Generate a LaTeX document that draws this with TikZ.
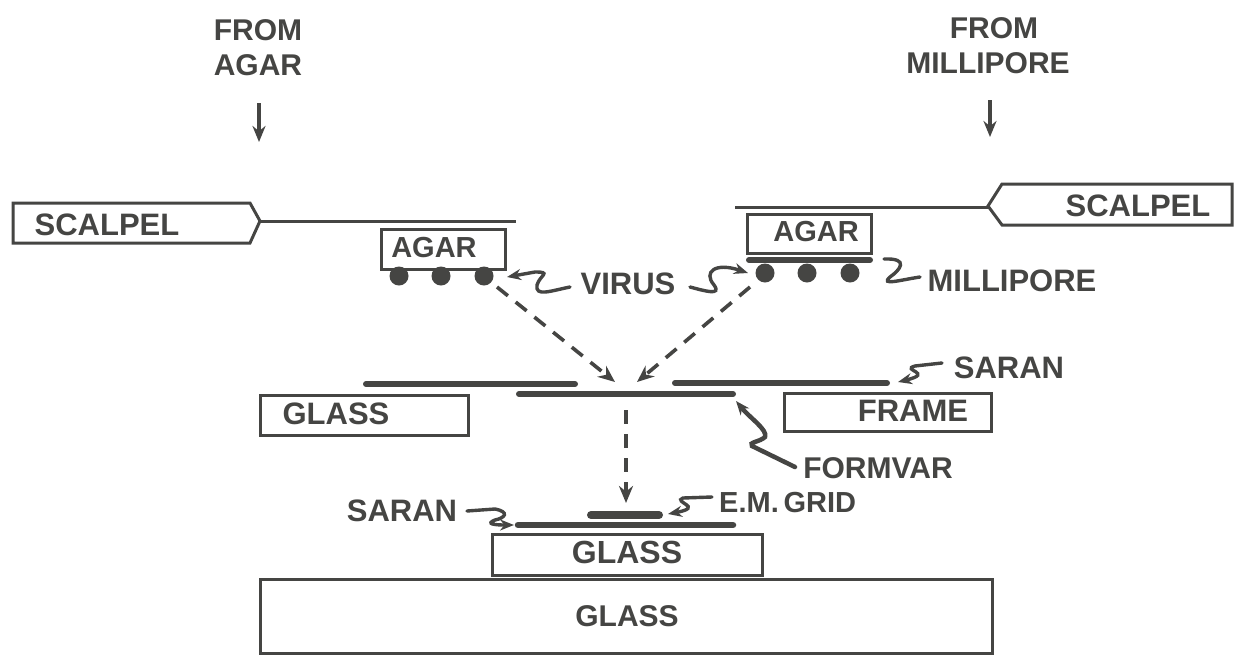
\documentclass[tikz,border=0pt]{standalone}
\usepackage{fontspec}
\setmainfont{Liberation Sans}
\usetikzlibrary{arrows.meta}
\definecolor{ink}{HTML}{454543}
\tikzset{
  x=1pt,y=-1pt,
  lab/.style={font=\bfseries\fontsize{#1}{35}\selectfont,text=ink,inner sep=0pt,align=center},
  lab/.default=31,
  box/.style={draw=ink,line width=3pt,inner sep=0pt,anchor=north west},
  film/.style={draw=ink,line width=6pt,line cap=round},
  thin line/.style={draw=ink,line width=3pt},
  virus/.style={circle,fill=ink,minimum size=19pt,inner sep=0pt},
  plainlead/.style={draw=ink,line width=3.4pt,line cap=round},
  lead/.style={plainlead,-{Stealth[length=14pt,width=11pt]}},
  flow/.style={draw=ink,line width=3.6pt,dash pattern=on 14pt off 10pt,-{Stealth[length=17pt,width=14pt]}},
  arrowdown/.style={draw=ink,line width=3.6pt,-{Stealth[length=16pt,width=13pt]}}
}
\begin{document}
\begin{tikzpicture}
\useasboundingbox[fill=white] (0,0) rectangle (1234,662);
% top labels
\node[lab=30] (fa) at (258,48) {FROM\\AGAR};
\node[lab=30] (fm) at (988,46) {\hspace*{12pt}FROM\\MILLIPORE};
\coordinate (fas) at (259,103);
\coordinate (fae) at (259,142);
\coordinate (fms) at (990,100);
\coordinate (fme) at (990,137);
\draw[arrowdown] (fas) -- (fae);
\draw[arrowdown] (fms) -- (fme);
% scalpels
\draw[thin line] (13,203) -- (250,203) -- (260,221) -- (250,243) -- (13,243) -- cycle;
\draw[thin line] (260,221) -- (516,221);
\node[lab] (s1) at (107,225) {SCALPEL};
\draw[thin line] (1232,184) -- (1002,184) -- (988,206) -- (1002,225) -- (1232,225) -- cycle;
\draw[thin line] (988,207) -- (735,207);
\node[lab] (s2) at (1138,206) {SCALPEL};
% agar blocks
\node[box,minimum width=124pt,minimum height=40pt] (a1) at (380,228) {};
\node[lab=29] at (434,248) {AGAR};
\node[box,minimum width=124pt,minimum height=39pt] (a2) at (746,213) {};
\node[lab=29] at (816,232) {AGAR};
\draw[film] (749,260) -- (870,260);
% viruses
\node[virus] (v1) at (399,276) {};
\node[virus] (v2) at (441,276) {};
\node[virus] (v3) at (484,276) {};
\node[virus] (v4) at (765,273) {};
\node[virus] (v5) at (807,273) {};
\node[virus] (v6) at (850,273) {};
% virus label
\node[lab] (vl) at (628,284) {VIRUS};
\coordinate (vle) at (570,287);
\coordinate (vre) at (690,287);
\draw[lead] (vle) .. controls (550,291) and (535,297) .. (537,285) .. controls (540,275) and (552,272) .. (535,272) -- (507,277);
\draw[lead] (vre) .. controls (705,291) and (722,296) .. (714,285) .. controls (703,272) and (715,262) .. (748,273);
% millipore
\node[lab] (ml) at (1012,281) {MILLIPORE};
\coordinate (mls) at (920,277);
\coordinate (mle) at (884,259);
\draw[plainlead] (mls) .. controls (900,280) and (880,286) .. (890,277) .. controls (900,270) and (910,258) .. (mle);
% dashed flows
\coordinate (t1) at (615,382);
\coordinate (t2) at (637,382);
\coordinate (t3) at (626,410);
\coordinate (t4) at (626,503);
\draw[flow] (497,287) -- (t1);
\draw[flow] (750,287) -- (t2);
\draw[flow] (t3) -- (t4);
% middle
\draw[film] (366,384) -- (575,384);
\draw[film] (675,383) -- (887,383);
\draw[film] (519,394) -- (733,394);
\node[box,minimum width=208pt,minimum height=40pt] (g1) at (259,394) {};
\node[lab] at (336,414) {GLASS};
\node[box,minimum width=207pt,minimum height=38pt] (fr) at (783,392) {};
\node[lab] at (913,411) {FRAME};
\node[lab] (sr) at (1009,368) {SARAN};
\coordinate (srs) at (942,363);
\coordinate (sre) at (898,382);
\draw[lead] (srs) -- (915,366) .. controls (900,370) and (935,373) .. (sre);
% formvar
\node[lab=30] (fv) at (878,468) {FORMVAR};
\coordinate (fvs) at (795,467);
\coordinate (fve) at (736,401);
\draw[lead,line width=4.5pt] (fvs) -- (752,446) .. controls (748,442) and (760,442) .. (765,437) .. controls (768,430) and (750,418) .. (fve);
% bottom
\draw[draw=ink,line width=6.5pt,line cap=round] (518,525) -- (733,525);
\draw[draw=ink,line width=8pt,line cap=round] (591,515) -- (659,515);
\node[box,minimum width=270pt,minimum height=41pt] (g2) at (491,533) {};
\node[lab=32] at (627,552) {GLASS};
\node[box,minimum width=732pt,minimum height=74pt] (g3) at (259,578) {};
\node[lab=30] at (627,616) {GLASS};
\node[lab=29,anchor=west] (emg) at (719,503) {E.M.\,GRID};
\coordinate (ems) at (712,497);
\coordinate (eme) at (668,514);
\draw[lead] (ems) -- (683,498) .. controls (672,502) and (705,507) .. (eme);
\node[lab] (sb) at (402,511) {SARAN};
\coordinate (sbs) at (467,511);
\coordinate (sbe) at (514,525);
\draw[lead] (sbs) -- (495,509) .. controls (510,512) and (505,518) .. (495,520) .. controls (485,524) and (495,525) .. (sbe);
\end{tikzpicture}
\end{document}
